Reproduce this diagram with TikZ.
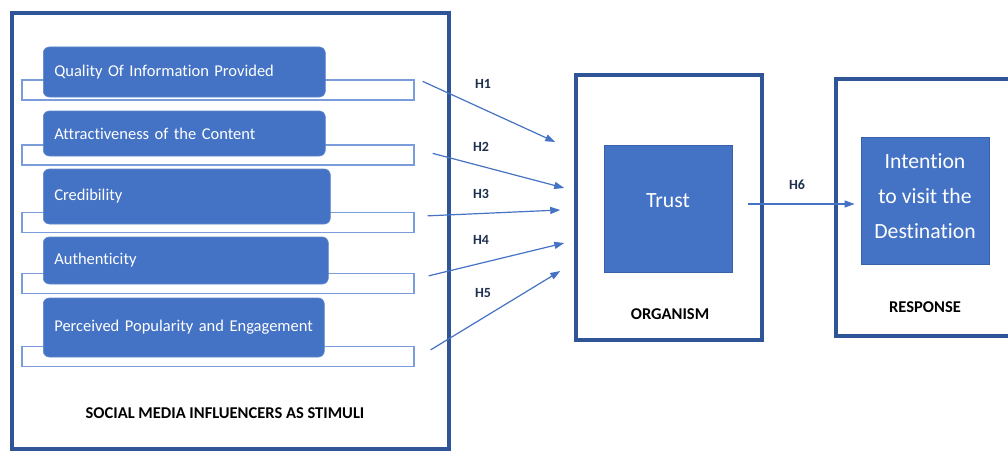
\documentclass[tikz,border=0pt]{standalone}
\usepackage{fontspec}
\setmainfont{Carlito}[Ligatures=NoCommon]
\usetikzlibrary{arrows.meta}

\definecolor{fillblue}{HTML}{4472C4}
\definecolor{frameblue}{HTML}{2F5597}
\definecolor{barblue}{HTML}{7A9CDB}
\definecolor{hypnavy}{HTML}{1F2F4F}

\tikzset{
  Frame/.style={draw=frameblue, line width=3.5pt, fill=white, inner sep=0pt},
  Bar/.style={draw=barblue, line width=1.3pt, fill=white, minimum width=392pt, minimum height=20pt, inner sep=0pt},
  Factor/.style={fill=fillblue, draw=fillblue!85!white, line width=0.6pt, rounded corners=6pt,
    text=white, font=\fontsize{16.5}{19}\selectfont, align=left, inner xsep=11pt, inner ysep=0pt},
  Construct/.style={fill=fillblue, draw=frameblue!60!fillblue, line width=0.8pt, text=white,
    minimum width=128pt, minimum height=127pt, inner sep=0pt, align=center},
  Caption/.style={font=\fontsize{16.5}{19}\selectfont\bfseries, text=black},
  Hyp/.style={font=\fontsize{14}{16}\selectfont\bfseries, text=hypnavy},
  Link/.style={draw=fillblue, line width=1.2pt, -{Triangle[length=10pt,width=7pt]}}
}

\begin{document}
\begin{tikzpicture}[x=1pt, y=-1pt]
\useasboundingbox (0,0) rectangle (1008,452);

% stimulus block
\node[Frame, minimum width=437pt, minimum height=436pt] (stim) at (230.5,231) {};

\node[Bar] (bar1) at (218,90) {};
\node[Bar] (bar2) at (218,155) {};
\node[Bar] (bar3) at (218,222.5) {};
\node[Bar] (bar4) at (218,283.5) {};
\node[Bar] (bar5) at (218,356.5) {};

\node[Factor, anchor=west, minimum height=50pt, text width=260pt] (quality) at (43,72) {Quality Of Information Provided};
\node[Factor, anchor=west, minimum height=45pt, text width=260pt] (attract) at (43,133.5) {Attractiveness of the Content};
\node[Factor, anchor=west, minimum height=55pt, text width=265pt] (cred) at (43,196.5) {Credibility};
\node[Factor, anchor=west, minimum height=47pt, text width=263pt] (auth) at (43,260.5) {Authenticity};
\node[Factor, anchor=west, minimum height=59pt, text width=259pt] (popul) at (43,327.5) {Perceived Popularity and Engagement};

\node[Caption] (stimcap) at (225,413) {SOCIAL MEDIA INFLUENCERS AS STIMULI};

% organism block
\node[Frame, minimum width=186pt, minimum height=265pt] (org) at (669,207.5) {};
\node[Construct, font=\fontsize{21.7}{26}\selectfont, text height=14pt, text depth=16pt] (trust) at (668,208.5) {Trust};
\node[Caption] (orgcap) at (670,314) {ORGANISM};

% response block
\node[Frame, minimum width=179pt, minimum height=257pt] (resp) at (925.5,207.5) {};
\node[Construct, font=\fontsize{21.7}{35}\selectfont] (intent) at (925,200.5)
  {\begin{tabular}{@{}c@{}}Intention\\to visit the\\Destination\\[9pt]\end{tabular}};
\node[Caption] (respcap) at (925,307) {RESPONSE};

% hypotheses
\draw[Link] ([xshift=8pt,yshift=-2pt]bar1.north east) -- ([xshift=-19pt,yshift=65.5pt]org.west);
\draw[Link] ([xshift=18pt,yshift=-9pt]bar2.north east) -- ([xshift=-10pt,yshift=19.5pt]org.west);
\draw[Link] ([xshift=13pt,yshift=-4pt]bar3.north east) -- ([xshift=-14pt,yshift=-2.5pt]org.west);
\draw[Link] ([xshift=14pt,yshift=-3pt]bar4.north east) -- ([xshift=-10pt,yshift=-35.5pt]org.west);
\draw[Link] ([xshift=16pt,yshift=-4pt]bar5.north east) -- ([xshift=-14pt,yshift=-63.5pt]org.west);
\draw[Link] ([xshift=16pt,yshift=4.5pt]trust.east) -- ([xshift=-6pt,yshift=-3.5pt]intent.west);

\node[Hyp] (h1) at (483,84) {H1};
\node[Hyp] (h2) at (481,147) {H2};
\node[Hyp] (h3) at (481,194) {H3};
\node[Hyp] (h4) at (481,240) {H4};
\node[Hyp] (h5) at (483,293) {H5};
\node[Hyp] (h6) at (797,185) {H6};

\end{tikzpicture}
\end{document}
